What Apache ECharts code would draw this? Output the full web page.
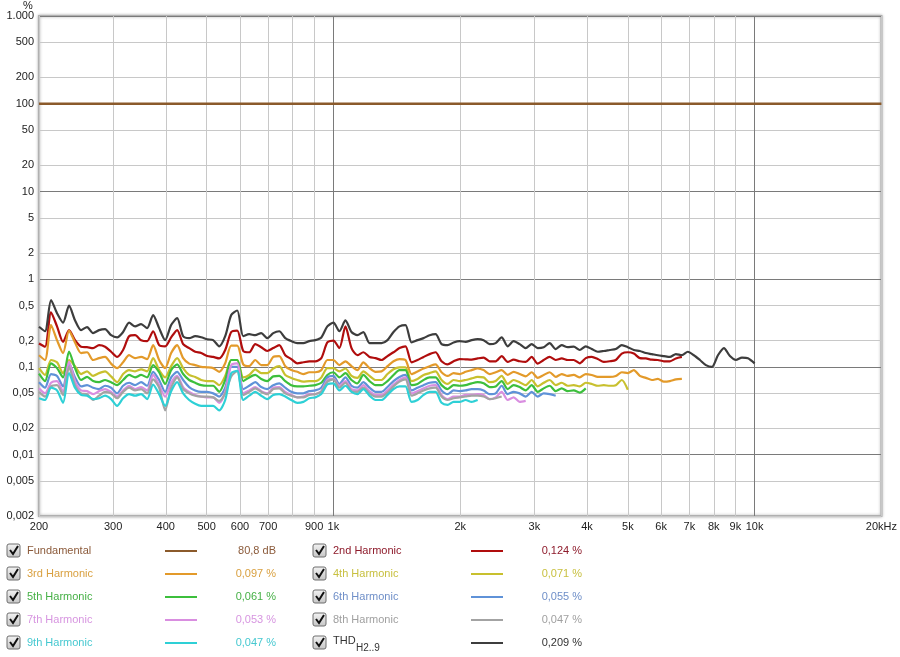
<!DOCTYPE html>
<html><head><meta charset="utf-8">
<script src="https://cdn.jsdelivr.net/npm/echarts@6/dist/echarts.min.js"></script>
<style>html,body{margin:0;padding:0;background:#fff}#c{width:900px;height:657px}</style>
</head><body><div id="c"></div>
<script>
// Frequency grid (Hz)
const freq = [200,206.7,213.6,220.7,228.1,235.7,243.5,251.7,260.1,268.8,277.7,287,296.6,306.5,316.7,327.3,338.2,349.5,361.2,373.2,385.7,398.6,411.9,425.6,439.8,454.5,469.7,485.4,501.6,518.3,535.6,553.5,572,591.1,610.8,631.2,652.3,674,696.5,719.8,743.8,768.6,794.3,820.8,848.2,876.5,905.8,936,967.3,
1000,1033,1068,1104,1140,1178,1218,1259,1301,1344,1389,1435,1483,1533,1584,1637,1692,1748,1806,1867,1929,1993,2060,2129,2200,2273,2349,2428,2509,2592,2679,2768,2861,2956,3055,3157,3262,3371,3484,3600,3720,3844,3973,4105,4242,4384,4530,4682,4838,5000,5167,5339,5517,5702,5892,6089,6292,6502,6719,6943,7175,7415,7662,7918,8183,8456,8738,9030,9331,9643,10000];

const fundFreq = [200, 20000];
const fundamental = [100, 100];

const h2 = [0.185,0.17,0.42,0.29,0.193,0.263,0.202,0.17,0.168,0.164,
0.177,0.17,0.149,0.13,0.156,0.224,0.23,0.202,0.197,0.255,
0.177,0.172,0.217,0.263,0.182,0.164,0.149,0.144,0.133,0.13,
0.125,0.156,0.25,0.26,0.152,0.147,0.182,0.168,0.152,0.164,
0.177,0.136,0.123,0.11,0.113,0.116,0.116,0.126,0.19,0.2,
0.164,0.29,0.164,0.136,0.147,0.13,0.126,0.12,0.133,0.147,
0.164,0.172,0.113,0.12,0.13,0.14,0.147,0.116,0.107,0.116,
0.123,0.122,0.121,0.125,0.128,0.116,0.116,0.133,0.114,0.121,
0.116,0.114,0.13,0.109,0.12,0.13,0.12,0.125,0.12,0.12,
0.11,0.126,0.13,0.123,0.114,0.116,0.12,0.142,0.147,0.142,
0.126,0.125,0.121,0.12,0.116,0.116,0.125,0.13];

const h3 = [0.136,0.12,0.30,0.202,0.144,0.26,0.19,0.144,0.147,0.12,
0.126,0.13,0.109,0.097,0.113,0.136,0.126,0.13,0.123,0.177,
0.12,0.097,0.144,0.177,0.126,0.109,0.105,0.10,0.099,0.097,
0.088,0.11,0.175,0.175,0.107,0.102,0.12,0.105,0.105,0.13,
0.133,0.102,0.092,0.088,0.083,0.087,0.087,0.092,0.12,0.12,
0.105,0.116,0.102,0.092,0.113,0.097,0.088,0.089,0.102,0.116,
0.123,0.12,0.083,0.089,0.096,0.102,0.107,0.087,0.079,0.085,
0.083,0.088,0.092,0.096,0.092,0.083,0.087,0.092,0.081,0.088,
0.083,0.078,0.087,0.075,0.081,0.087,0.077,0.083,0.079,0.081,
0.076,0.083,0.081,0.077,0.077,0.077,0.079,0.087,0.085,0.092,
0.079,0.075,0.071,0.073,0.068,0.069,0.072,0.073];

const h4 = [0.097,0.081,0.12,0.113,0.085,0.12,0.102,0.083,0.089,0.079,
0.085,0.089,0.078,0.067,0.083,0.092,0.089,0.094,0.089,0.126,
0.092,0.076,0.102,0.126,0.097,0.081,0.077,0.071,0.069,0.069,
0.062,0.079,0.12,0.12,0.076,0.081,0.094,0.085,0.085,0.096,
0.102,0.081,0.075,0.071,0.068,0.069,0.069,0.076,0.097,0.097,
0.089,0.096,0.079,0.075,0.089,0.079,0.071,0.071,0.083,0.094,
0.099,0.099,0.069,0.073,0.081,0.085,0.089,0.071,0.064,0.071,
0.069,0.071,0.074,0.077,0.076,0.067,0.069,0.079,0.064,0.071,
0.067,0.062,0.071,0.06,0.066,0.071,0.062,0.066,0.061,0.062,
0.06,0.066,0.064,0.061,0.062,0.061,0.062,0.071,0.055];

const h5 = [0.084,0.069,0.11,0.097,0.076,0.15,0.097,0.071,0.077,0.069,
0.067,0.071,0.067,0.062,0.071,0.081,0.076,0.081,0.076,0.105,
0.087,0.064,0.092,0.107,0.083,0.071,0.066,0.062,0.061,0.061,
0.052,0.071,0.12,0.12,0.069,0.076,0.081,0.073,0.069,0.078,
0.079,0.069,0.062,0.06,0.06,0.061,0.062,0.066,0.081,0.087,
0.076,0.085,0.071,0.065,0.081,0.069,0.062,0.062,0.069,0.081,
0.092,0.092,0.062,0.064,0.071,0.076,0.076,0.062,0.056,0.062,
0.061,0.062,0.065,0.067,0.065,0.059,0.06,0.069,0.056,0.062,
0.059,0.054,0.062,0.052,0.057,0.061,0.053,0.057,0.053,0.054,
0.051,0.057];

const h6 = [0.067,0.058,0.083,0.079,0.06,0.11,0.076,0.06,0.062,0.058,
0.056,0.061,0.058,0.05,0.061,0.066,0.062,0.067,0.061,0.088,
0.071,0.052,0.076,0.088,0.071,0.059,0.054,0.052,0.052,0.05,
0.046,0.058,0.1,0.1,0.056,0.061,0.067,0.059,0.056,0.062,
0.065,0.058,0.052,0.05,0.05,0.053,0.054,0.058,0.076,0.079,
0.064,0.076,0.061,0.058,0.067,0.058,0.052,0.052,0.059,0.069,
0.077,0.081,0.054,0.058,0.062,0.066,0.067,0.054,0.049,0.054,
0.053,0.054,0.056,0.056,0.054,0.049,0.05,0.061,0.049,0.052,
0.05,0.046,0.052,0.046,0.05,0.049,0.047];

const h7 = [0.057,0.05,0.066,0.069,0.052,0.115,0.069,0.054,0.053,0.049,
0.053,0.056,0.052,0.046,0.054,0.061,0.056,0.059,0.054,0.081,
0.062,0.046,0.066,0.079,0.059,0.052,0.048,0.046,0.045,0.045,
0.039,0.052,0.105,0.11,0.05,0.054,0.059,0.053,0.05,0.058,
0.059,0.052,0.048,0.045,0.046,0.049,0.049,0.053,0.071,0.073,
0.061,0.069,0.056,0.054,0.062,0.053,0.048,0.048,0.054,0.063,
0.071,0.076,0.05,0.053,0.057,0.061,0.062,0.048,0.043,0.046,
0.046,0.048,0.048,0.049,0.048,0.043,0.045,0.052,0.042,0.045,
0.04,0.041];

const h8 = [0.052,0.046,0.06,0.062,0.048,0.1,0.062,0.05,0.049,0.042,
0.047,0.052,0.05,0.044,0.052,0.058,0.054,0.056,0.05,0.072,
0.058,0.032,0.058,0.076,0.056,0.05,0.047,0.046,0.046,0.045,
0.041,0.05,0.078,0.09,0.048,0.052,0.057,0.052,0.049,0.056,
0.057,0.05,0.047,0.045,0.045,0.048,0.049,0.052,0.068,0.072,
0.058,0.066,0.053,0.052,0.058,0.05,0.046,0.046,0.051,0.06,
0.068,0.072,0.047,0.05,0.054,0.057,0.058,0.046,0.042,0.044,
0.045,0.046,0.047,0.047,0.046,0.043,0.044,0.046];

const h9 = [0.044,0.042,0.058,0.054,0.039,0.085,0.058,0.048,0.047,0.043,
0.044,0.047,0.043,0.036,0.044,0.049,0.047,0.049,0.043,0.063,
0.049,0.036,0.053,0.067,0.05,0.042,0.038,0.036,0.036,0.036,
0.032,0.042,0.085,0.09,0.042,0.047,0.052,0.047,0.043,0.048,
0.049,0.046,0.042,0.039,0.04,0.044,0.045,0.049,0.063,0.065,
0.054,0.061,0.052,0.049,0.056,0.047,0.042,0.042,0.048,0.056,
0.06,0.06,0.04,0.042,0.048,0.052,0.052,0.039,0.037,0.04,
0.04,0.042,0.04,0.042];

const thd = [0.287,0.255,0.578,0.41,0.32,0.50,0.34,0.263,0.285,0.243,
0.263,0.27,0.23,0.217,0.25,0.32,0.29,0.307,0.277,0.39,
0.277,0.202,0.30,0.36,0.224,0.213,0.224,0.218,0.207,0.202,
0.172,0.224,0.39,0.44,0.224,0.236,0.23,0.243,0.213,0.243,
0.255,0.213,0.197,0.187,0.187,0.197,0.202,0.217,0.29,0.32,
0.255,0.34,0.25,0.23,0.25,0.187,0.187,0.187,0.202,0.25,
0.29,0.30,0.19,0.202,0.213,0.23,0.236,0.182,0.177,0.19,
0.197,0.193,0.202,0.207,0.202,0.182,0.187,0.217,0.172,0.197,
0.182,0.164,0.182,0.164,0.168,0.187,0.16,0.177,0.168,0.17,
0.156,0.172,0.16,0.149,0.152,0.156,0.16,0.177,0.168,0.156,
0.152,0.144,0.14,0.136,0.133,0.13,0.14,0.136,0.149,0.136,
0.12,0.105,0.10,0.136,0.164,0.133,0.12,0.128,0.126,0.11];

const xTicks = [200,300,400,500,600,700,800,900,1000,2000,3000,4000,5000,6000,7000,8000,9000,10000,20000];
const xTickLabels = ['200','300','400','500','600','700','','900','1k','2k','3k','4k','5k','6k','7k','8k','9k','10k','20kHz'];
const yTicks = [0.002,0.005,0.01,0.02,0.05,0.1,0.2,0.5,1,2,5,10,20,50,100,200,500,1000];
const yTickLabels = ['0,002','0,005','0,01','0,02','0,05','0,1','0,2','0,5','1','2','5','10','20','50','100','200','500','1.000'];

const seriesNames = ['Fundamental','2nd Harmonic','3rd Harmonic','4th Harmonic','5th Harmonic','6th Harmonic','7th Harmonic','8th Harmonic','9th Harmonic','THD'];
const legendValues = ['80,8 dB','0,124 %','0,097 %','0,071 %','0,061 %','0,055 %','0,053 %','0,047 %','0,047 %','0,209 %'];
const lineColors = ['#8b5a2b','#b00d0d','#e39a2a','#c8c02e','#3cbf3c','#5f92d8','#d98ee0','#a3a3a3','#2ed0d6','#3d3d3d'];
const textColors = ['#8b5a3a','#8e1b2b','#d9a040','#c8c040','#45b045','#6f8fc8','#d795e0','#a0a0a0','#45c8d0','#333333'];

const harmonics = [h2,h3,h4,h5,h6,h7,h8,h9,thd];

function nearestLabel(v, ticks, labels){
  for (let j=0;j<ticks.length;j++){ if (Math.abs(ticks[j]-v) <= ticks[j]*1e-6) return labels[j]; }
  return '';
}

const FONT = '"Liberation Sans", Arial, sans-serif';

const series = [];
series.push({name: seriesNames[0], type:'line', data: fundFreq.map((f,i)=>[f, fundamental[i]]),
  showSymbol:false, lineStyle:{color: lineColors[0], width:2.5}, itemStyle:{color: lineColors[0]}, z:2});
harmonics.forEach((vals, k) => {
  series.push({name: seriesNames[k+1], type:'line', data: vals.map((v,i)=>[freq[i], v]),
    showSymbol:false, smooth:0.25, lineStyle:{color: lineColors[k+1], width:2.2}, itemStyle:{color: lineColors[k+1]}, z:3});
});

// legend graphics
const graphics = [];
graphics.push({type:'text', style:{text:'%', x:28, y:6, fill:'#222', font:'11px '+FONT, align:'center', verticalAlign:'middle'}});
const colX = [{cb:7, name:27, l1:165, l2:197, val:276},{cb:313, name:333, l1:471, l2:503, val:582}];
const rowY = [551,574,597,620,643];
seriesNames.forEach((nm, i) => {
  const c = colX[i%2], yc = rowY[Math.floor(i/2)];
  graphics.push({type:'rect', shape:{x:c.cb, y:yc-7, width:13, height:13, r:2},
    style:{fill:new echarts.graphic.LinearGradient(0,0,0,1,[{offset:0,color:'#f4f4f4'},{offset:1,color:'#c4c4c4'}]), stroke:'#6e6e6e', lineWidth:1}});
  graphics.push({type:'polyline', shape:{points:[[c.cb+3,yc-1],[c.cb+6,yc+3],[c.cb+11,yc-5]]},
    style:{stroke:'#111', lineWidth:2, fill:null}});
  if (nm === 'THD') {
    graphics.push({type:'text', style:{text:'THD', x:c.name, y:yc-2, fill:textColors[i], font:'11px '+FONT, verticalAlign:'middle'}});
    graphics.push({type:'text', style:{text:'H2..9', x:c.name+23, y:yc+5, fill:textColors[i], font:'10px '+FONT, verticalAlign:'middle'}});
  } else {
    graphics.push({type:'text', style:{text:nm, x:c.name, y:yc, fill:textColors[i], font:'11px '+FONT, verticalAlign:'middle'}});
  }
  graphics.push({type:'line', shape:{x1:c.l1, y1:yc, x2:c.l2, y2:yc}, style:{stroke:lineColors[i], lineWidth:2}});
  graphics.push({type:'text', style:{text:legendValues[i], x:c.val, y:yc, fill:textColors[i], font:'11px '+FONT, align:'right', verticalAlign:'middle'}});
});

const chart = echarts.init(document.getElementById('c'));
chart.setOption({
  animation:false,
  backgroundColor:'#fff',
  grid:{left:39, top:16, width:843, height:500, show:true, borderColor:'#b0b0b0', borderWidth:2, backgroundColor:'#fff',
        shadowColor:'rgba(0,0,0,0.3)', shadowBlur:3},
  xAxis:{type:'log', logBase:10, min:200, max:20000,
    axisLine:{show:false}, axisTick:{show:false, customValues:xTicks},
    axisLabel:{customValues:xTicks, formatter:v=>nearestLabel(v,xTicks,xTickLabels), color:'#222', fontSize:11, fontFamily:FONT, margin:5, showMinLabel:true, showMaxLabel:true, hideOverlap:false},
    splitLine:{show:true, lineStyle:{color:['#c8c8c8','#c8c8c8','#c8c8c8','#c8c8c8','#c8c8c8','#c8c8c8','#c8c8c8','#c8c8c8','#7a7a7a'], width:1}}},
  yAxis:{type:'log', logBase:10, min:0.002, max:1000,
    axisLine:{show:false}, axisTick:{show:false, customValues:yTicks},
    axisLabel:{customValues:yTicks, formatter:v=>nearestLabel(v,yTicks,yTickLabels), color:'#222', fontSize:11, fontFamily:FONT, margin:5, showMinLabel:true, showMaxLabel:true, hideOverlap:false},
    splitLine:{show:true, lineStyle:{color:['#c8c8c8','#c8c8c8','#7a7a7a'], width:1}}},
  graphic: graphics,
  series: series
});
</script></body></html>
